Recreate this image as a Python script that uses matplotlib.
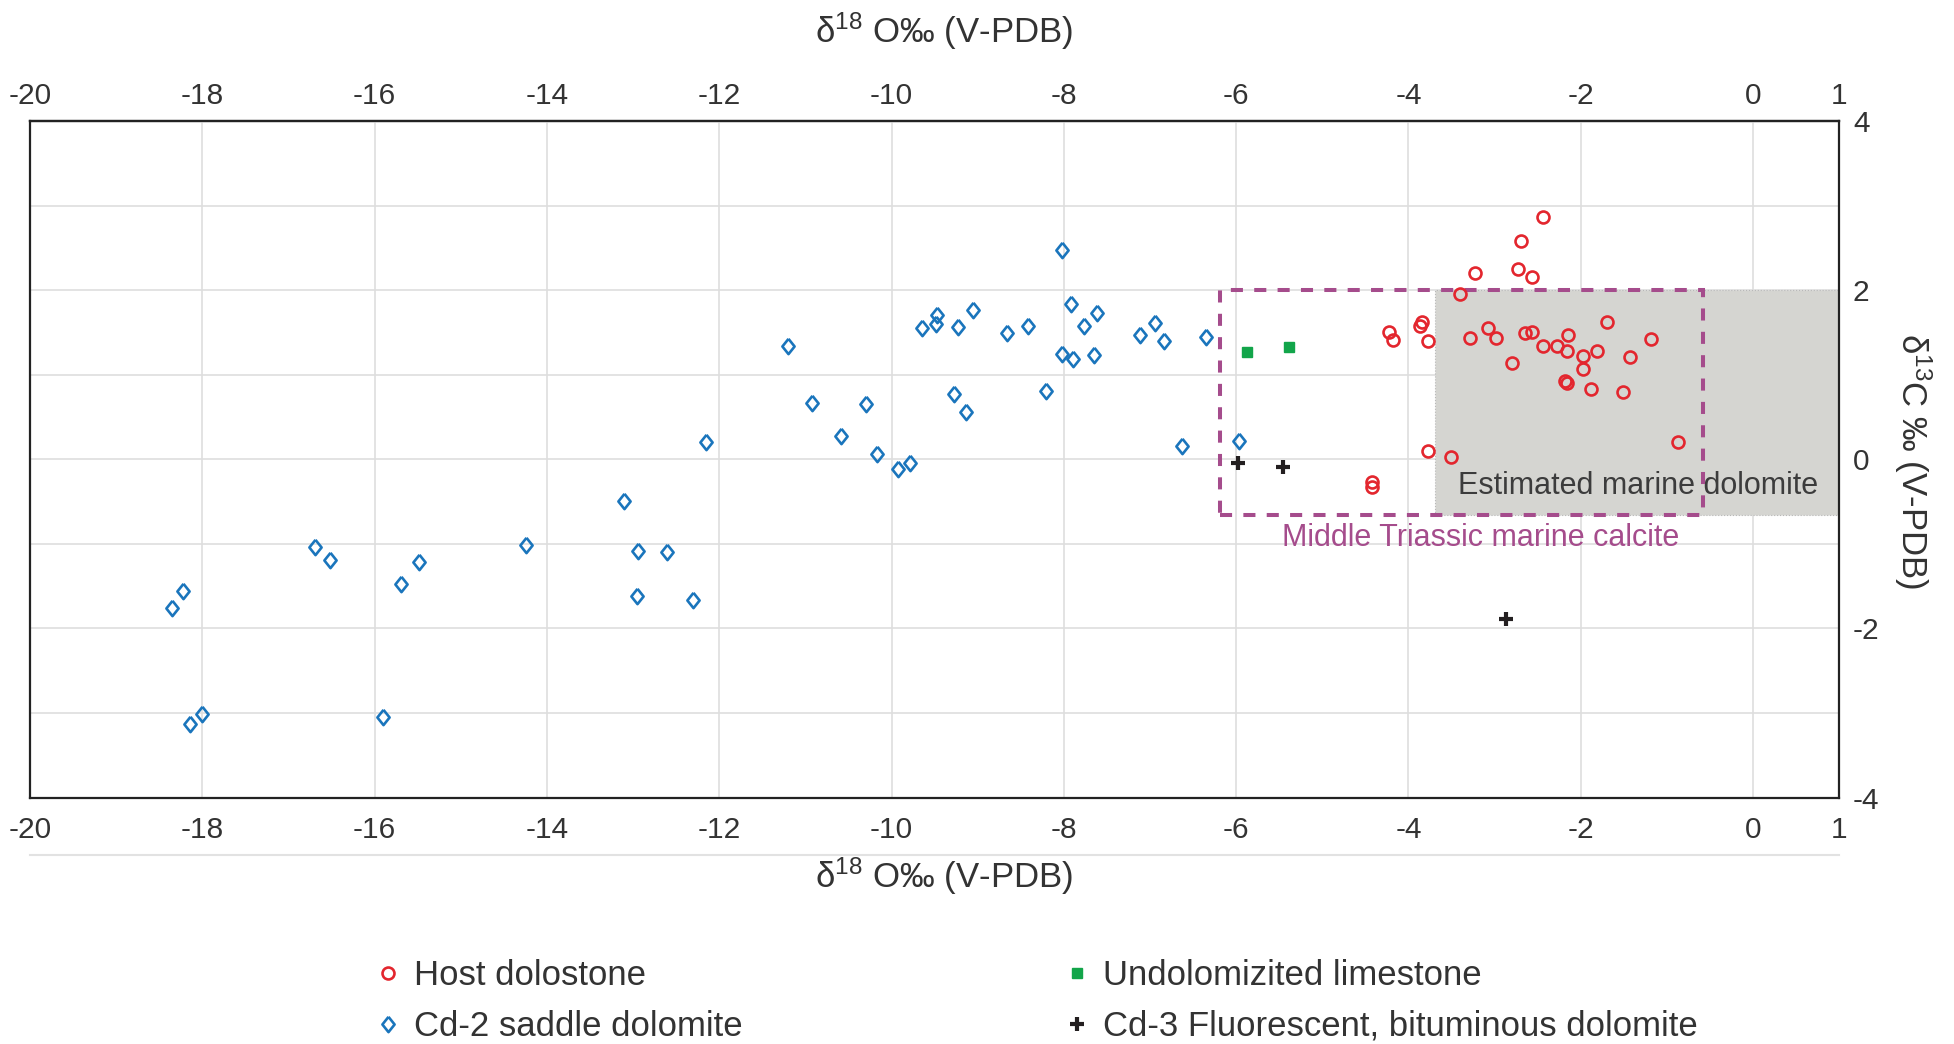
import numpy as np
import matplotlib
matplotlib.use("Agg")
import matplotlib.pyplot as plt
from matplotlib.patches import Rectangle
from matplotlib.lines import Line2D

plt.rcParams['font.family'] = ['Liberation Sans', 'DejaVu Sans']
plt.rcParams['mathtext.fontset'] = 'custom'
plt.rcParams['mathtext.rm'] = 'Liberation Sans'
plt.rcParams['mathtext.it'] = 'Liberation Sans:italic'
plt.rcParams['axes.unicode_minus'] = False

# Host dolostone
host_d18o = [-2.44, -2.69, -3.23, -2.73, -2.57, -3.40, -4.23, -4.18, -3.87, -3.84,
             -3.77, -3.29, -3.08, -2.98, -2.65, -2.57, -2.44, -2.28, -2.15, -2.16,
             -1.97, -1.81, -1.70, -1.18, -1.43, -2.80, -1.97, -2.18, -2.16, -1.88,
             -1.51, -0.87, -3.77, -3.51, -4.42, -4.42]
host_d13c = [2.86, 2.58, 2.20, 2.25, 2.16, 1.95, 1.51, 1.41, 1.58, 1.62,
             1.40, 1.43, 1.55, 1.43, 1.49, 1.51, 1.34, 1.34, 1.47, 1.28,
             1.22, 1.28, 1.62, 1.42, 1.21, 1.14, 1.07, 0.93, 0.90, 0.83,
             0.80, 0.20, 0.10, 0.03, -0.27, -0.33]

# Cd-2 saddle dolomite
saddle_d18o = [-18.35, -18.23, -18.14, -18.00, -16.69, -16.52, -15.69, -15.48, -15.90, -14.24,
               -13.11, -12.94, -12.61, -12.96, -12.31, -12.15, -11.20, -10.92, -10.59, -10.30,
               -10.17, -9.92, -9.79, -9.65, -9.48, -9.47, -9.27, -9.23, -9.14, -9.06,
               -8.66, -8.42, -8.21, -8.02, -8.02, -7.92, -7.89, -7.76, -7.65, -7.62,
               -7.12, -6.94, -6.84, -6.63, -6.35, -5.97]
saddle_d13c = [-1.76, -1.56, -3.13, -3.01, -1.04, -1.19, -1.47, -1.21, -3.05, -1.01,
               -0.49, -1.09, -1.10, -1.62, -1.67, 0.20, 1.34, 0.66, 0.27, 0.65,
               0.06, -0.11, -0.05, 1.55, 1.60, 1.71, 0.77, 1.56, 0.56, 1.76,
               1.49, 1.58, 0.81, 2.48, 1.24, 1.84, 1.19, 1.58, 1.23, 1.73,
               1.47, 1.61, 1.40, 0.16, 1.45, 0.22]

# Undolomitized limestone
lime_d18o = [-5.87, -5.39]
lime_d13c = [1.27, 1.33]

# Cd-3 fluorescent, bituminous dolomite
bitum_d18o = [-5.98, -5.46, -2.87]
bitum_d13c = [-0.04, -0.09, -1.89]

# reference fields (d18O min, d18O max, d13C min, d13C max)
marine_calcite = (-6.19, -0.58, -0.66, 2.0)
marine_dolomite = (-3.69, 1.0, -0.66, 2.0)

xticks = [-20, -18, -16, -14, -12, -10, -8, -6, -4, -2, 0, 1]
yticks = [-4, -2, 0, 2, 4]

red = '#e3262e'
blue = '#1a75bc'
green = '#12a54a'
black = '#231f20'
magenta = '#a54c8c'
txt = '#333333'

fig = plt.figure(figsize=(19.54, 10.44), dpi=100)
ax = fig.add_axes([0.0154, 0.2361, 0.9258, 0.648])

ax.set_xlim(-20, 1)
ax.set_ylim(-4, 4)
ax.set_xticks(xticks)
ax.set_yticks(yticks)
ax.set_yticks(np.arange(-4, 5, 1), minor=True)
ax.yaxis.tick_right()
ax.tick_params(axis='x', which='both', length=0, labelsize=21.5, colors=txt, pad=13)
ax.tick_params(axis='y', which='both', length=0, labelsize=21.5, colors=txt, pad=10)
ax.grid(True, axis='x', which='major', color='#dedede', lw=1.2)
ax.grid(True, axis='y', which='both', color='#dedede', lw=1.2)
ax.set_axisbelow(True)
for sp in ax.spines.values():
    sp.set_linewidth(1.6)
    sp.set_color('#222222')

# same scale repeated along the top edge
top = ax.secondary_xaxis('top')
top.set_xticks(xticks)
top.tick_params(length=0, labelsize=21.5, colors=txt, pad=8)
top.spines['top'].set_linewidth(1.6)
top.spines['top'].set_color('#222222')

# estimated marine dolomite field
x0, x1, y0, y1 = marine_dolomite
ax.add_patch(Rectangle((x0, y0), x1 - x0, y1 - y0, facecolor='#d5d5d1',
                       edgecolor='#b8b8b8', lw=0.8, ls=':', zorder=1))
ax.text(-1.33, -0.32, 'Estimated marine dolomite', fontsize=22,
        color='#3c3c3c', ha='center', va='center', zorder=2)

# Middle Triassic marine calcite field
x0, x1, y0, y1 = marine_calcite
ax.add_patch(Rectangle((x0, y0), x1 - x0, y1 - y0, facecolor='none',
                       edgecolor=magenta, lw=2.9, ls=(0, (3, 2.8)), zorder=3))
ax.text(-3.16, -0.93, 'Middle Triassic marine calcite', fontsize=22,
        color=magenta, ha='center', va='center', zorder=3)

diamond = [(0, 1), (0.8, 0), (0, -1), (-0.8, 0), (0, 1)]

h_host, = ax.plot(host_d18o, host_d13c, ls='none', marker='o', ms=8.6,
                  mfc='none', mec=red, mew=1.9, zorder=5, label='Host dolostone')
h_saddle, = ax.plot(saddle_d18o, saddle_d13c, ls='none', marker=diamond, ms=11,
                    mfc='none', mec=blue, mew=1.9, zorder=5, label='Cd-2 saddle dolomite')
h_lime, = ax.plot(lime_d18o, lime_d13c, ls='none', marker='s', ms=7,
                  mfc=green, mec=green, zorder=5, label='Undolomizited limestone')
h_bitum, = ax.plot(bitum_d18o, bitum_d13c, ls='none', marker='+', ms=10.5,
                   mec=black, mew=3.0, zorder=5,
                   label='Cd-3 Fluorescent, bituminous dolomite')

# axis titles
d18o_label = r'δ$^{\mathregular{18}}$ O‰ (V-PDB)'
fig.text(0.483, 0.970, d18o_label, fontsize=25, color=txt, ha='center', va='center')
fig.text(0.483, 0.161, d18o_label, fontsize=25, color=txt, ha='center', va='center')
fig.text(0.979, 0.558, r'δ$^{\mathregular{13}}$C ‰ (V-PDB)', fontsize=25,
         color=txt, ha='center', va='center', rotation=-90)

# thin rule under the bottom tick labels
fig.add_artist(Line2D([0.0154, 0.9412], [0.181, 0.181], color='#e2e2e2', lw=1.5))

leg_kw = dict(loc='upper left', frameon=False, fontsize=25, handlelength=0.6,
              handletextpad=0.45, labelspacing=0.5, markerscale=1.0,
              borderpad=0, borderaxespad=0)
leg1 = fig.legend(handles=[h_host, h_saddle], bbox_to_anchor=(0.193, 0.081), **leg_kw)
leg2 = fig.legend(handles=[h_lime, h_bitum], bbox_to_anchor=(0.546, 0.081), **leg_kw)
for leg in (leg1, leg2):
    for t in leg.get_texts():
        t.set_color(txt)

fig.savefig('out.png', dpi=100)
